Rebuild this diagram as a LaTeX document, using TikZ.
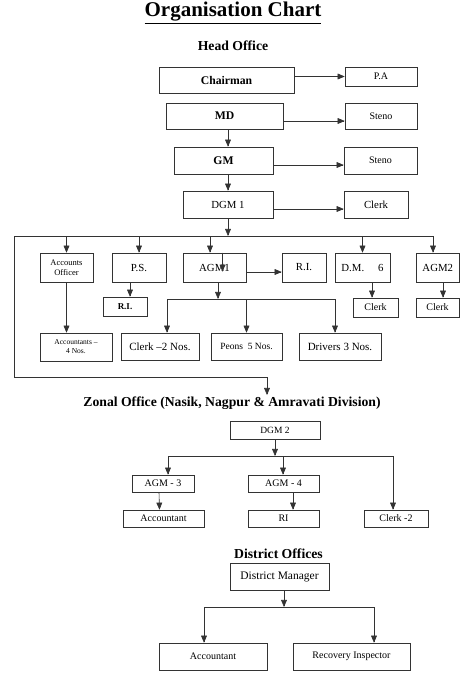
\documentclass[tikz,border=0pt]{standalone}
\usepackage{fontspec}
\setmainfont{Liberation Serif}
\usetikzlibrary{arrows}

\begin{document}
\begin{tikzpicture}[x=1pt, y=-1pt, line width=0.6pt, draw=black!80,
  box/.style={draw, inner sep=1pt, align=center, font=\fontsize{10}{11}\selectfont},
  big/.style={font=\bfseries\fontsize{11.7}{13}\selectfont},
  mid/.style={font=\fontsize{10.8}{12}\selectfont},
  tiny/.style={font=\fontsize{8.5}{9.5}\selectfont},
  head/.style={font=\bfseries\fontsize{13.7}{15}\selectfont}]
\useasboundingbox (0,0) rectangle (459,677);

% head office
\node (title) at (233,13) {\bfseries\fontsize{21}{22}\selectfont\underline{Organisation Chart}};
\node[head] (ho) at (233,46) {Head Office};
\node[box, big, minimum width=135, minimum height=26] (chair) at (226.5,80) {Chairman};
\node[box, minimum width=72, minimum height=19] (pa) at (381,76.5) {P.A};
\node[box, big, minimum width=117, minimum height=26] (md) at (224.5,116) {MD};
\node[box, minimum width=72, minimum height=26] (steno1) at (381,116) {Steno};
\node[box, big, minimum width=99, minimum height=27] (gm) at (223.5,160.5) {GM};
\node[box, minimum width=73, minimum height=27] (steno2) at (380.5,160.5) {Steno};
\node[box, mid, minimum width=90, minimum height=27] (dgm1) at (228,204.5) {DGM 1};
\node[box, mid, minimum width=64, minimum height=27] (clerk1) at (376,204.5) {Clerk};

\node[box, tiny, minimum width=53, minimum height=29] (acc) at (66.5,267.5) {Accounts\\Officer};
\node[box, mid, minimum width=54, minimum height=29] (ps) at (139,267.5) {P.S.};
\node[box, mid, minimum width=63, minimum height=29] (agm1) at (214.5,267.5) {AGM1};
\node[box, mid, minimum width=44, minimum height=29] (ri1) at (304,267.5) {R.I.};
\node[box, mid, minimum width=55, minimum height=29] (dm6) at (362.5,267.5) {D.M.\hspace{14pt}6};
\node[box, mid, minimum width=43.5, minimum height=29] (agm2) at (437.75,267.5) {AGM2};

\node[box, font=\bfseries\fontsize{9}{10}\selectfont, minimum width=44, minimum height=19] (ri2) at (125,306.5) {R.I.};
\node[box, minimum width=45, minimum height=19] (clerk3) at (375.5,307.5) {Clerk};
\node[box, minimum width=43, minimum height=19] (clerk4) at (437.5,307.5) {Clerk};
\node[box, font=\fontsize{7.5}{9}\selectfont, minimum width=72, minimum height=28] (acc4) at (76,347) {Accountants --\\4 Nos.};
\node[box, font=\fontsize{11}{12}\selectfont, minimum width=78, minimum height=27] (clerk2) at (160,346.5) {Clerk --2 Nos.};
\node[box, font=\fontsize{9.5}{11}\selectfont, minimum width=71, minimum height=27] (peons) at (246.5,346.5) {Peons\ \ 5 Nos.};
\node[box, font=\fontsize{11}{12}\selectfont, minimum width=82, minimum height=27] (drivers) at (340,346.5) {Drivers 3 Nos.};

% zonal office
\node[head] (zo) at (232,403) {Zonal Office (Nasik, Nagpur \& Amravati Division)};
\node[box, font=\fontsize{9.5}{11}\selectfont, minimum width=90, minimum height=18] (dgm2) at (275,430) {DGM 2};
\node[box, minimum width=62, minimum height=17] (agm3) at (163,483.5) {AGM - 3};
\node[box, minimum width=71, minimum height=17] (agm4) at (283.5,483.5) {AGM - 4};
\node[box, minimum width=81, minimum height=17] (accz) at (163.5,518.5) {Accountant};
\node[box, minimum width=71, minimum height=17] (riz) at (283.5,518.5) {RI};
\node[box, minimum width=64, minimum height=17] (clerkz) at (396,518.5) {Clerk -2};

% district offices
\node[head] (dof) at (278.5,554) {District Offices};
\node[box, font=\fontsize{11.5}{13}\selectfont, minimum width=99, minimum height=27] (dman) at (279.5,576.5) {District Manager};
\node[box, minimum width=108, minimum height=27] (accd) at (213,656.5) {Accountant};
\node[box, minimum width=117, minimum height=27] (rinsp) at (351.5,656.5) {Recovery Inspector};

\coordinate (b1w) at (14,236);
\coordinate (b1e) at (433,236);
\coordinate (loop) at (267,377);
\coordinate (zarr) at (267,395);
\coordinate (b2w) at (167,299);
\coordinate (b2e) at (335,299);
\coordinate (b3w) at (168,456);
\coordinate (b3e) at (393,456);
\coordinate (b4w) at (204,607);
\coordinate (b4e) at (374,607);

\draw (b1w) -- (b1e);
\draw[-triangle 45] (b1w) |- (loop) -- (zarr);
\draw (b2w) -- (b2e);
\draw (b3w) -- (b3e);
\draw (b4w) -- (b4e);

\path[-triangle 45]
  (chair.east |- pa.west) edge (pa.west)
  ([yshift=-5pt]md.east) edge ([yshift=-5pt]steno1.west)
  ([yshift=-4.5pt]gm.east) edge ([yshift=-4.5pt]steno2.west)
  ([yshift=-4.5pt]dgm1.east) edge ([yshift=-4.5pt]clerk1.west)
  (md.south -| dgm1) edge (gm.north -| dgm1)
  (gm.south -| dgm1) edge (dgm1.north)
  (dgm1.south) edge (dgm1.south |- b1w)
  (acc.north |- b1w) edge (acc.north)
  (ps.north |- b1w) edge (ps.north)
  ([xshift=-4.5pt]agm1.north |- b1w) edge ([xshift=-4.5pt]agm1.north)
  (dm6.north |- b1w) edge (dm6.north)
  (b1e) edge (b1e |- agm2.north)
  ([yshift=-4.5pt]agm1.east) edge ([yshift=-4.5pt]ri1.west)
  (acc.south) edge (acc.south |- acc4.north)
  ([xshift=5pt]ri2.north |- ps.south) edge ([xshift=5pt]ri2.north)
  ([xshift=3.5pt]agm1.south) edge ([xshift=3.5pt]agm1.south |- b2w)
  (b2w) edge (b2w |- clerk2.north)
  (peons.north |- b2w) edge (peons.north)
  (b2e) edge (b2e |- drivers.north)
  ([xshift=-3.5pt]clerk3.north |- dm6.south) edge ([xshift=-3.5pt]clerk3.north)
  ([xshift=5.5pt]clerk4.north |- agm2.south) edge ([xshift=5.5pt]clerk4.north)
  (dgm2.south) edge (dgm2.south |- b3w)
  (b3w) edge (b3w |- agm3.north)
  ([xshift=-0.5pt]agm4.north |- b3w) edge ([xshift=-0.5pt]agm4.north)
  (b3e) edge (b3e |- clerkz.north)
  ([xshift=-4pt]agm3.south) edge ([xshift=-4pt]accz.north)
  ([xshift=9.5pt]agm4.south) edge ([xshift=9.5pt]riz.north)
  ([xshift=4.5pt]dman.south) edge ([xshift=4.5pt]dman.south |- b4w)
  (b4w) edge (b4w |- accd.north)
  (b4e) edge (b4e |- rinsp.north);
\draw[-triangle 45] ([xshift=8pt]agm1.north) -- ++(0,19);
\end{tikzpicture}
\end{document}
